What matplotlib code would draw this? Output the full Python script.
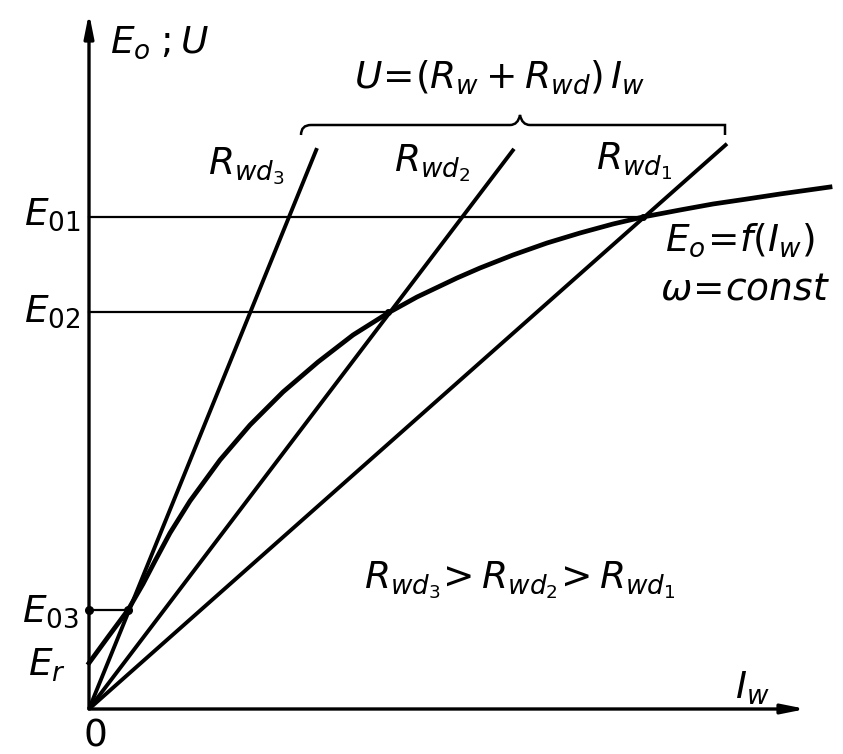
import numpy as np
import matplotlib.pyplot as plt
from matplotlib.path import Path
from matplotlib.patches import PathPatch

plt.rcParams['mathtext.fontset'] = 'dejavusans'

# Kennlinie E0 = f(Iw) bei omega = const (Einheiten ~ Pixel)
iw_kurve = [0, 19, 39, 54, 66, 81, 101, 131, 161, 194, 229, 264, 299,
            328, 368, 391, 424, 458, 491, 524, 554, 591, 624, 658, 691, 741]
e0_kurve = [46, 72, 99, 125, 148, 176, 208, 249, 284, 317, 347, 374, 396,
            412, 431, 441, 454, 466, 476, 485, 492, 499, 505, 510, 515, 522]

# Widerstandsgeraden U = (Rw + Rwd) Iw : Steigung und Endpunkt
index = ['3', '2', '1']
steigung = [2.46, 1.318, 0.886]
iw_ende = [228, 425, 638]

# Arbeitspunkte E01, E02, E03
e0_werte = [492, 397, 99]
iw_punkte = [554, 299, 39]

fig = plt.figure(figsize=(8.43, 7.54), dpi=100)
ax = fig.add_axes([0, 0, 1, 1])
ax.set_xlim(-89, 754)
ax.set_ylim(-45, 709)
ax.axis('off')

# Achsen mit Pfeilen
pfeil = dict(arrowstyle='-|>,head_length=1.4,head_width=0.28', lw=2.4,
             color='black', shrinkA=0, shrinkB=0)
ax.annotate('', xy=(0, 696), xytext=(0, 0), arrowprops=pfeil)
ax.annotate('', xy=(717, 0), xytext=(0, 0), arrowprops=pfeil)

# Geraden
for m, xe in zip(steigung, iw_ende):
    ax.plot([0, xe], [0, m * xe], color='black', lw=2.8, solid_capstyle='butt')

# Kennlinie
ax.plot(iw_kurve, e0_kurve, color='black', lw=3.4, solid_joinstyle='round')

# Hilfslinien E01, E02, E03
for e, x in zip(e0_werte, iw_punkte):
    ax.plot([0, x], [e, e], color='black', lw=1.6)
ax.plot([0, iw_punkte[2]], [e0_werte[2], e0_werte[2]], 'o', color='black', ms=5.5)
ax.plot(iw_punkte[:2], e0_werte[:2], 'o', color='black', ms=4)

# geschweifte Klammer ueber den Geraden
x0 = iw_ende[0] - 16
x1 = iw_ende[2] - 2
xm = 431
yb = 584
verts = [(x0, yb - 10), (x0, yb), (x0 + 10, yb), (x0 + 20, yb),
         (xm - 10, yb), (xm - 2, yb), (xm, yb + 10),
         (xm + 2, yb), (xm + 10, yb), (x1 - 20, yb),
         (x1 - 10, yb), (x1, yb), (x1, yb - 10)]
codes = [Path.MOVETO, Path.CURVE3, Path.CURVE3, Path.LINETO,
         Path.LINETO, Path.CURVE3, Path.CURVE3,
         Path.CURVE3, Path.CURVE3, Path.LINETO,
         Path.CURVE3, Path.CURVE3, Path.LINETO]
ax.add_patch(PathPatch(Path(verts, codes), fill=False, lw=1.8, color='black'))

fs = 27
ax.text(21, 666, r'$E_o\;;U$', fontsize=fs, va='center', ha='left')
ax.text(411, 632, r'$U\!=\!(R_w+R_{wd})\,I_w$', fontsize=fs, va='center', ha='center')
for i, x, y in zip(index, [157, 343, 545], [543, 546, 548]):
    ax.text(x, y, r'$R_{wd_%s}$' % i, fontsize=fs, va='center', ha='center')
ax.text(-37, 494, r'$E_{01}$', fontsize=fs, va='center', ha='center')
ax.text(-37, 397, r'$E_{02}$', fontsize=fs, va='center', ha='center')
ax.text(-39, 97, r'$E_{03}$', fontsize=fs, va='center', ha='center')
ax.text(-42, 44, r'$E_r$', fontsize=fs, va='center', ha='center')
ax.text(6, -27, r'$0$', fontsize=fs, va='center', ha='center')
ax.text(663, 21, r'$I_w$', fontsize=fs, va='center', ha='center')
ax.text(651, 469, r'$E_o\!=\!f(I_w)$', fontsize=fs, va='center', ha='center')
ax.text(656, 419, r'$\omega\!=\!const$', fontsize=fs, va='center', ha='center')
ax.text(431, 129, r'$R_{wd_3}\!>R_{wd_2}\!>R_{wd_1}$', fontsize=fs, va='center', ha='center')

fig.savefig('out.png', dpi=100, facecolor='white')
